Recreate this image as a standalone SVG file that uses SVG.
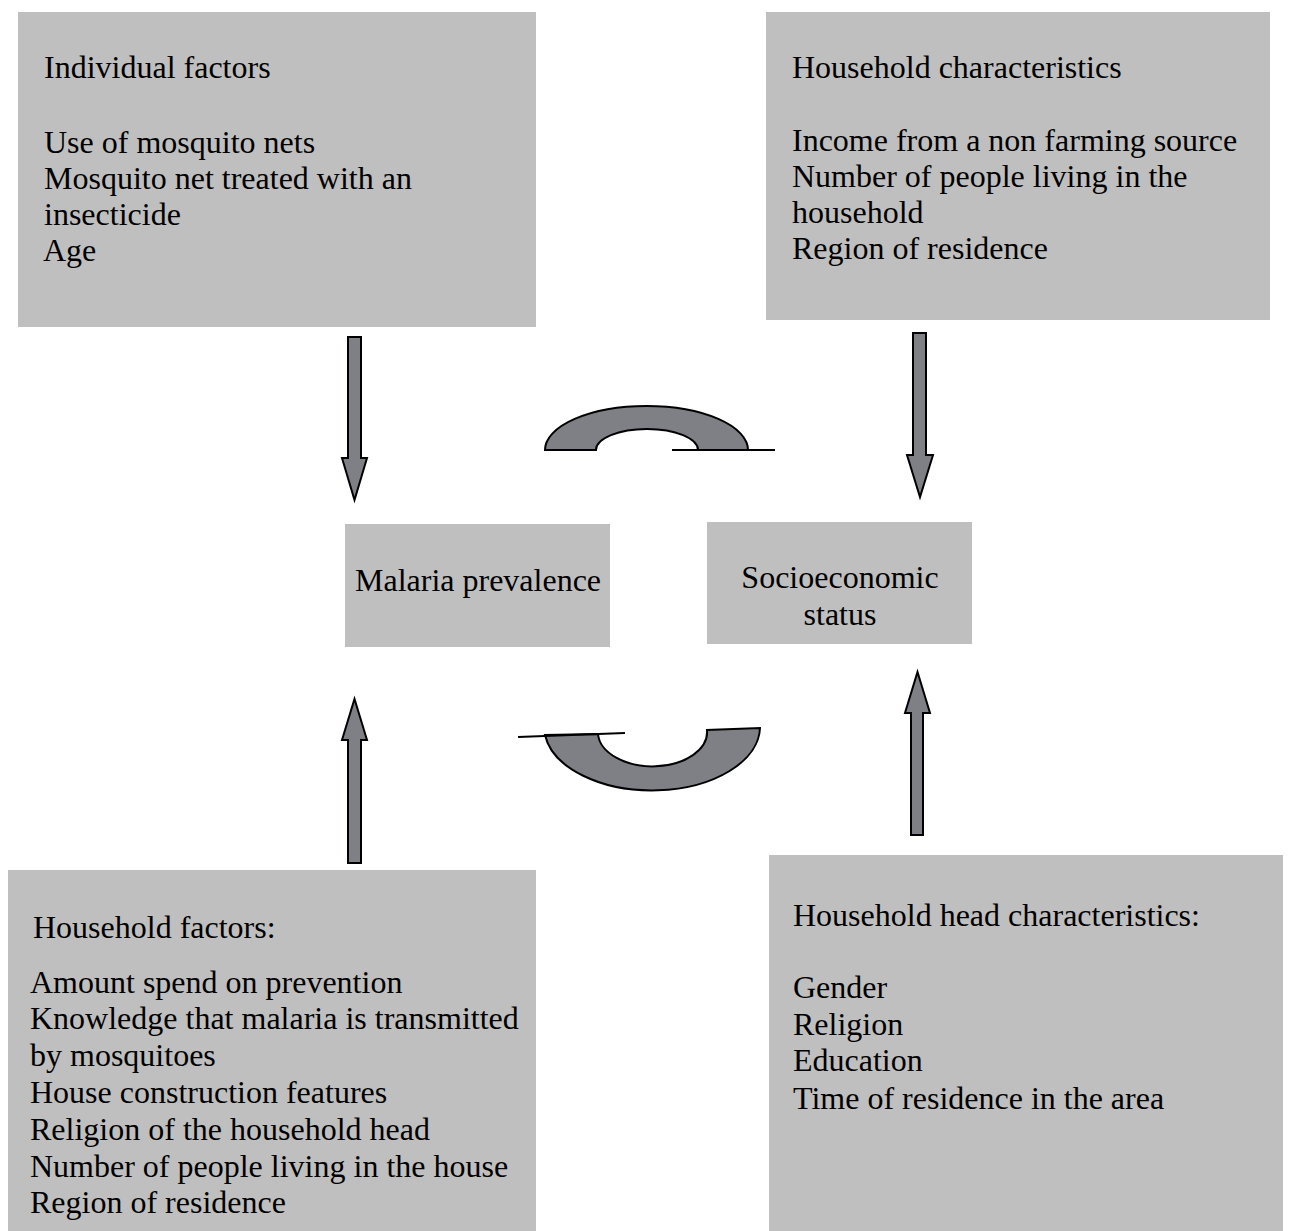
<svg xmlns="http://www.w3.org/2000/svg" width="1295" height="1231" viewBox="0 0 1295 1231">
<style>
.box{fill:#bfbfbf;}
.t{font-family:"Liberation Serif","Times New Roman",serif;font-size:32px;fill:#000;}
.arr{fill:#7f8085;stroke:#000;stroke-width:2;stroke-linejoin:miter;}
.ln{stroke:#000;stroke-width:2;fill:none;}
</style>
<rect width="1295" height="1231" fill="#fff"/>
<g id="individual-factors">
<rect class="box" x="18" y="12" width="518" height="315"/>
<text class="t" x="44" y="78">Individual factors</text>
<text class="t" x="44" y="153">Use of mosquito nets</text>
<text class="t" x="44" y="189">Mosquito net treated with an</text>
<text class="t" x="44" y="225">insecticide</text>
<text class="t" x="43" y="261">Age</text>
</g>
<g id="household-characteristics">
<rect class="box" x="766" y="12" width="504" height="308"/>
<text class="t" x="792" y="78">Household characteristics</text>
<text class="t" x="792" y="151">Income from a non farming source</text>
<text class="t" x="792" y="187">Number of people living in the</text>
<text class="t" x="792" y="223">household</text>
<text class="t" x="792" y="259">Region of residence</text>
</g>
<g id="malaria-prevalence">
<rect class="box" x="345" y="524" width="265" height="123"/>
<text class="t" x="478" y="591" text-anchor="middle">Malaria prevalence</text>
</g>
<g id="socioeconomic-status">
<rect class="box" x="707" y="522" width="265" height="122"/>
<text class="t" x="840" y="588" text-anchor="middle">Socioeconomic</text>
<text class="t" x="840" y="625" text-anchor="middle">status</text>
</g>
<g id="household-factors">
<rect class="box" x="8" y="870" width="528" height="361"/>
<text class="t" x="33" y="938">Household factors:</text>
<text class="t" x="30" y="993">Amount spend on prevention</text>
<text class="t" x="30" y="1029">Knowledge that malaria is transmitted</text>
<text class="t" x="30" y="1066">by mosquitoes</text>
<text class="t" x="30" y="1103">House construction features</text>
<text class="t" x="30" y="1140">Religion of the household head</text>
<text class="t" x="30" y="1177">Number of people living in the house</text>
<text class="t" x="30" y="1213">Region of residence</text>
</g>
<g id="household-head-characteristics">
<rect class="box" x="769" y="855" width="514" height="376"/>
<text class="t" x="793" y="926">Household head characteristics:</text>
<text class="t" x="793" y="998">Gender</text>
<text class="t" x="793" y="1035">Religion</text>
<text class="t" x="793" y="1071">Education</text>
<text class="t" x="793" y="1109">Time of residence in the area</text>
</g>
<g id="connectors">
<path class="arr" d="M348,337 L361,337 L361,458 L367,458 L354.5,500 L342,458 L348,458 Z"/>
<path class="arr" d="M913,333 L926,333 L926,455 L933,455 L920,497 L907,455 L913,455 Z"/>
<path class="arr" d="M911,835 L923,835 L923,713 L930,713 L917.5,672 L905,713 L911,713 Z"/>
<path class="arr" d="M348,863 L361,863 L361,740 L367,740 L354.5,699 L342,740 L348,740 Z"/>
<path class="arr" d="M545,450 A101.5,44 0 0 1 748,450 L698,450 A51,21 0 0 0 596,450 Z"/>
<line class="ln" x1="672" y1="450" x2="775" y2="450"/>
<path class="arr" d="M545,735 A108,64 0 0 0 760,728 L707,730 A54,34 0 0 1 598,734 Z"/>
<line class="ln" x1="518" y1="737" x2="625" y2="733"/>
</g>
</svg>
